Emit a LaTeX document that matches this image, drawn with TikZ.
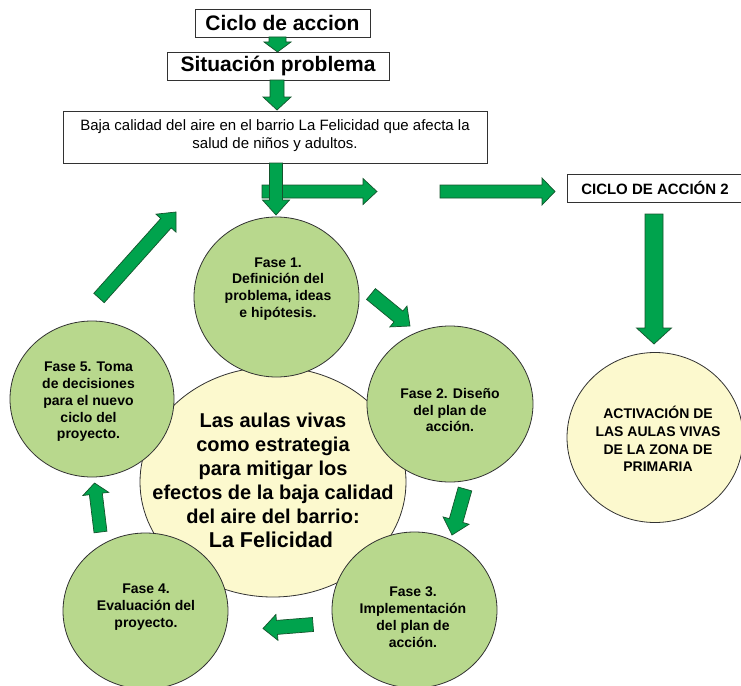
\documentclass[tikz,border=0pt]{standalone}
\usepackage{fontspec}
\setmainfont{Liberation Sans}
\usetikzlibrary{calc,shapes.geometric}
\definecolor{arrfill}{RGB}{0,163,77}
\definecolor{arrline}{RGB}{20,85,45}
\definecolor{fasefill}{RGB}{184,216,141}
\definecolor{yelfill}{RGB}{252,249,206}
\definecolor{edge}{RGB}{50,50,50}
\newcommand\blockarr[5]{%
  \path (#1) coordinate (ba-s) ($(#2)!#5pt!(#1)$) coordinate (ba-b);
  \draw[arrowsty] ($(ba-s)!#3pt!90:(ba-b)$) -- ($(ba-b)!#3pt!-90:(ba-s)$)
    -- ($(ba-b)!#4pt!-90:(ba-s)$) -- (#2) -- ($(ba-b)!#4pt!90:(ba-s)$)
    -- ($(ba-b)!#3pt!90:(ba-s)$) -- ($(ba-s)!#3pt!-90:(ba-b)$) -- cycle;}
\tikzset{
  arrowsty/.style={fill=arrfill, draw=arrline, line width=0.7pt, line join=miter},
  boxsty/.style={draw=edge, fill=white, line width=0.8pt, rectangle, inner sep=0pt},
  fase/.style={ellipse, draw=edge, fill=fasefill, line width=0.8pt, inner sep=0pt},
  yel/.style={ellipse, draw=edge, fill=yelfill, line width=0.8pt, inner sep=0pt},
  fasetxt/.style={align=center, inner sep=0pt, font=\fontsize{14}{16.8}\selectfont\bfseries},
}
\begin{document}
\begin{tikzpicture}[x=1pt,y=-1pt]
\useasboundingbox (0,0) rectangle (741,685);
\clip (0,0) rectangle (741,685);
\fill[white] (0,0) rectangle (741,685);
% top boxes
\node[boxsty, minimum width=175pt, minimum height=28pt, font=\fontsize{21}{25}\selectfont\bfseries] (ciclo) at (282.5,23) {Ciclo de accion};
\node[boxsty, minimum width=222pt, minimum height=28pt, font=\fontsize{21}{25}\selectfont\bfseries] (sit) at (278,66) {Situación problema};
\node[boxsty, minimum width=424pt, minimum height=52pt] (baja) at (275,137) {};
\node[align=center, inner sep=0pt, font=\fontsize{15}{18.5}\selectfont] (bajatxt) at (275,135.5) {Baja calidad del aire en el barrio La Felicidad que afecta la\\salud de niños y adultos.};
\node[boxsty, minimum width=174pt, minimum height=28pt] (ciclo2) at (654,188) {};
\node[inner sep=0pt, font=\fontsize{15}{18}\selectfont\bfseries] (ciclo2txt) at (655,188) {CICLO DE ACCIÓN 2};
% central and phase circles
\node[yel, minimum width=266pt, minimum height=230pt] (centro) at (273,482) {};
\node[fase, minimum width=165pt, minimum height=160pt] (f1) at (276.5,297) {};
\node[fase, minimum width=166pt, minimum height=156pt] (f2) at (450,404) {};
\node[fase, minimum width=165pt, minimum height=156pt] (f3) at (414.5,610) {};
\node[fase, minimum width=165pt, minimum height=156pt] (f4) at (145.5,611) {};
\node[fase, minimum width=164pt, minimum height=156pt] (f5) at (92,399) {};
\node[yel, minimum width=176pt, minimum height=170pt] (act) at (655,437.5) {};
% texts
\node[align=center, inner sep=0pt, font=\fontsize{20}{24}\selectfont\bfseries] (centrotxt) at (273,468) {Las aulas vivas\\como estrategia\\para mitigar los\\efectos de la baja calidad\\del aire del barrio:};
\node[inner sep=0pt, font=\fontsize{21.5}{25}\selectfont\bfseries] (felic) at (271,540) {La Felicidad};
\node[fasetxt] (f1t) at (278,289) {Fase 1.\\Definición del\\problema, ideas\\e hipótesis.};
\node[fasetxt] (f2t) at (450,410) {Fase 2. Diseño\\del plan de\\acción.};
\node[fasetxt] (f3t) at (413,617) {Fase 3.\\Implementación\\del plan de\\acción.};
\node[fasetxt] (f4t) at (146,607) {Fase 4.\\Evaluación del\\proyecto.};
\node[fasetxt] (f5t) at (88.5,402) {Fase 5. Toma\\de decisiones\\para el nuevo\\ciclo del\\proyecto.};
\node[align=center, inner sep=0pt, font=\fontsize{14}{17.6}\selectfont\bfseries] (actt) at (658,439) {ACTIVACIÓN DE\\LAS AULAS VIVAS\\DE LA ZONA DE\\PRIMARIA};
% arrow end points
\coordinate (a1s) at (277.5,37);   \coordinate (a1e) at (277.5,52);
\coordinate (a2s) at (277,80);     \coordinate (a2e) at (277,110);
\coordinate (a3s) at (276,163);    \coordinate (a3e) at (276,215);
\coordinate (h1s) at (262,191.5);  \coordinate (h1e) at (377,191.5);
\coordinate (h2s) at (440,191.5);  \coordinate (h2e) at (555,191.5);
\coordinate (a6s) at (654,214);    \coordinate (a6e) at (654,344);
\coordinate (p12s) at (371,294);   \coordinate (p12e) at (410,326);
\coordinate (p23s) at (465,489);   \coordinate (p23e) at (452,535);
\coordinate (p34s) at (313,624.5); \coordinate (p34e) at (263,628.5);
\coordinate (p45s) at (100.5,532); \coordinate (p45e) at (94.5,483);
\coordinate (p51s) at (99,298);    \coordinate (p51e) at (176,212);
% arrows
\blockarr{a1s}{a1e}{8.5}{13.5}{10}
\blockarr{a2s}{a2e}{7}{14}{13}
\blockarr{h1s}{h1e}{6.5}{13}{14}
\blockarr{a3s}{a3e}{6.5}{13.5}{15}
\blockarr{h2s}{h2e}{6.5}{13.5}{13}
\blockarr{a6s}{a6e}{9}{17.5}{16}
\blockarr{p12s}{p12e}{7}{13.5}{15}
\blockarr{p23s}{p23e}{7}{13.5}{15}
\blockarr{p34s}{p34e}{7}{13}{14}
\blockarr{p45s}{p45e}{6.5}{13}{11}
\blockarr{p51s}{p51e}{7}{13.5}{15}
\end{tikzpicture}
\end{document}
